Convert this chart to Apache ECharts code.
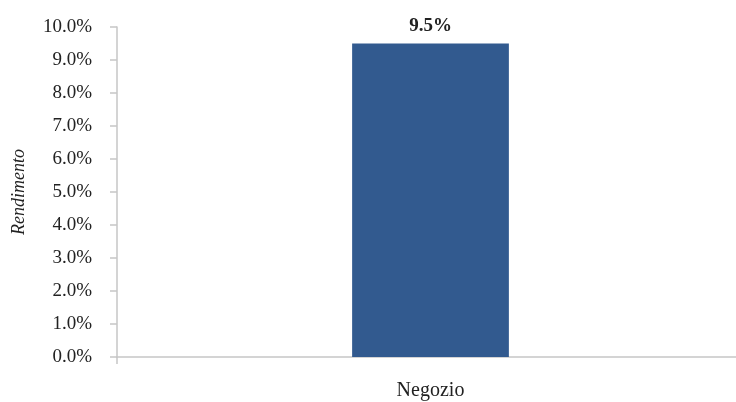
<!DOCTYPE html>
<html><head><meta charset="utf-8">
<script src="https://cdn.jsdelivr.net/npm/echarts@6/dist/echarts.min.js"></script>
<style>html,body{margin:0;padding:0;background:#fff}#c{width:736px;height:402px}</style>
</head><body><div id="c"></div>
<script>
const categories = ['Negozio'];
const values = [9.5];
const yTicks = [0,1,2,3,4,5,6,7,8,9,10];
const yTitle = 'Rendimento';
const font = 'Liberation Serif';
const chart = echarts.init(document.getElementById('c'), null, {renderer:'canvas'});
chart.setOption({
  animation:false,
  grid:{left:117,width:627,top:27,bottom:45,containLabel:false,outerBoundsMode:'none'},
  xAxis:{type:'category',data:categories,
    axisLine:{lineStyle:{color:'#c6c6c6',width:1.5}},
    axisTick:{show:true,length:7,lineStyle:{color:'#c6c6c6',width:1.5}},
    axisLabel:{fontFamily:font,fontSize:20,color:'#222',margin:24}},
  yAxis:{type:'value',min:0,max:10,interval:1,
    name:yTitle,nameLocation:'middle',nameGap:89,nameRotate:90,
    nameTextStyle:{fontFamily:font,fontStyle:'italic',fontSize:18,color:'#222'},
    axisLine:{show:true,lineStyle:{color:'#c6c6c6',width:1.5}},
    axisTick:{show:true,length:7,lineStyle:{color:'#c6c6c6',width:1.5}},
    splitLine:{show:false},
    axisLabel:{fontFamily:font,fontSize:19,color:'#222',margin:25,
      formatter:v=>v.toFixed(1)+'%'}},
  series:[{type:'bar',data:values,barWidth:'25%',
    itemStyle:{color:'#325a8f'},
    label:{show:true,position:'top',distance:8,fontFamily:font,fontWeight:'bold',fontSize:19,color:'#222',
      formatter:p=>p.value.toFixed(1)+'%'}}]
});
</script></body></html>
